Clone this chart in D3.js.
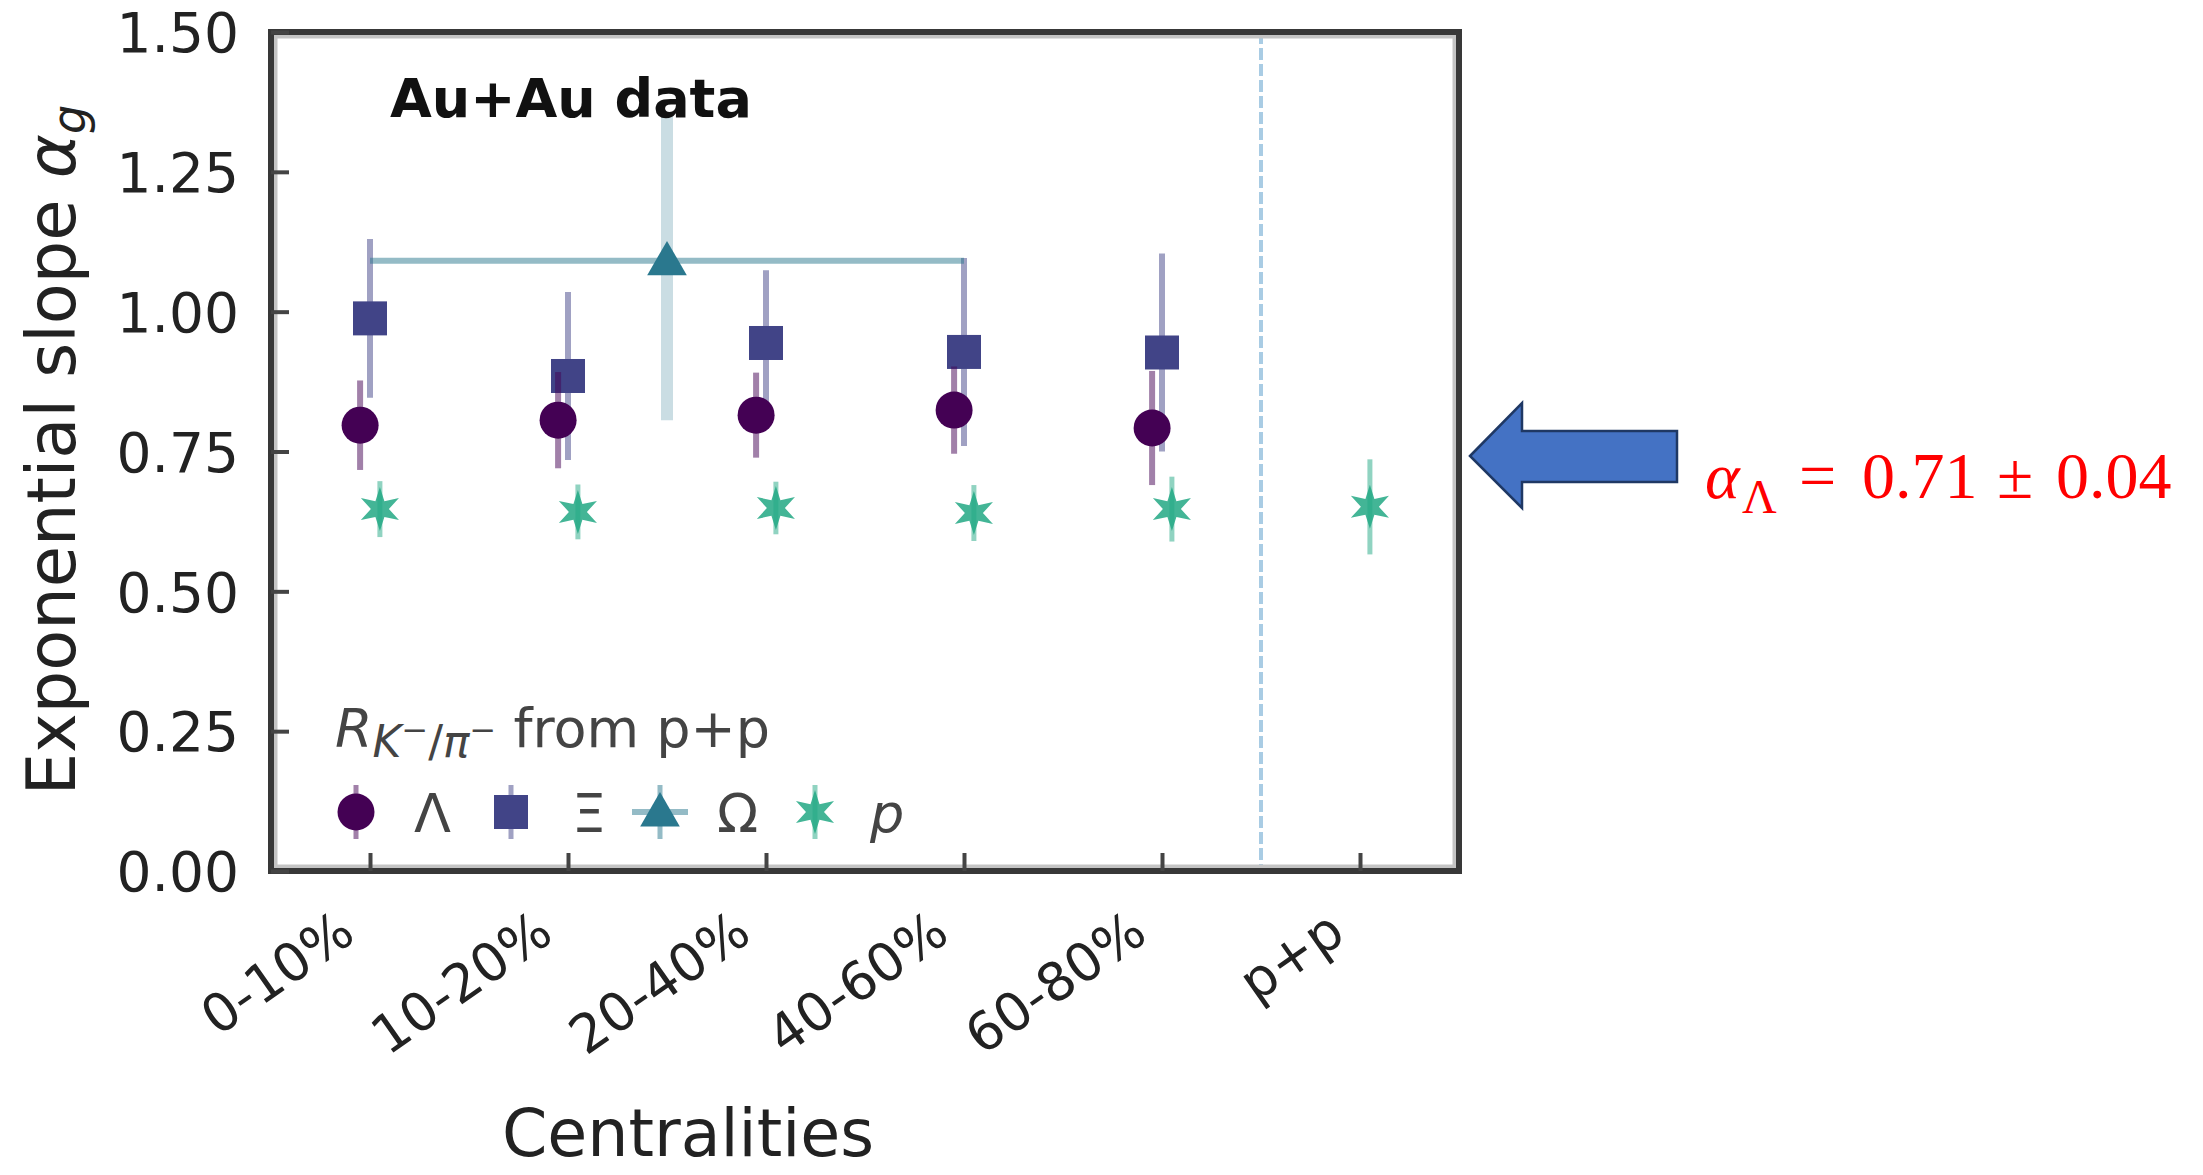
<!DOCTYPE html>
<html>
<head>
<meta charset="utf-8">
<script src="https://cdn.jsdelivr.net/npm/d3@7"></script>
<style>
  html, body { margin: 0; padding: 0; background: #fff; }
  svg { display: block; }
</style>
</head>
<body>
<svg id="chart" width="2203" height="1175"></svg>
<script>
// ---------------- data ----------------
const categories = ["0-10%", "10-20%", "20-40%", "40-60%", "60-80%", "p+p"];
const yTicks = [0, 0.25, 0.5, 0.75, 1.0, 1.25, 1.5];

const lambdaVals = [0.797, 0.806, 0.815, 0.824, 0.792];
const lambdaErr  = [0.080, 0.086, 0.076, 0.078, 0.102];

const xiVals = [0.988, 0.885, 0.944, 0.928, 0.927];
const xiErr  = [0.142, 0.150, 0.130, 0.168, 0.177];

const omegaX = [1.5];       // spans 0-10% .. 40-60%
const omegaXErr = [1.5];
const omegaVals = [1.091];
const omegaLow  = [0.806];
const omegaHigh = [1.350];

const protonVals = [0.647, 0.642, 0.649, 0.640, 0.647, 0.651];
const protonErr  = [0.050, 0.049, 0.047, 0.050, 0.058, 0.085];

const legendLabels = ["Λ", "Ξ", "Ω", "p"];

// ---------------- setup ----------------
const svg = d3.select("#chart");
const L = 271, R = 1459, T = 32, B = 871;
const x = d3.scaleLinear().domain([-0.5, 5.5]).range([L, R]);
const y = d3.scaleLinear().domain([0, 1.5]).range([B, T]);

const C = { lam: "#440154", xi: "#414487", om: "#2a788e", p: "#22a884" };
const FONT = "'DejaVu Sans', sans-serif";

function starPath(R0, r0) {
  const pts = [];
  for (let i = 0; i < 12; i++) {
    const a = -Math.PI / 2 + i * Math.PI / 6;
    const rr = i % 2 === 0 ? R0 : r0;
    pts.push([rr * Math.cos(a), rr * Math.sin(a)]);
  }
  return "M" + pts.map(p => p.join(",")).join("L") + "Z";
}
const STAR = starPath(22, 9);
const TRI = d3.symbol().type(d3.symbolTriangle).size(680)();

// separator line p+p
svg.append("line")
  .attr("x1", x(4.5)).attr("x2", x(4.5))
  .attr("y1", y(1.5)).attr("y2", y(0))
  .attr("stroke", "#a9cce4").attr("stroke-width", 4)
  .attr("stroke-dasharray", "12,4");

// ---------------- Xi ----------------
const gXi = svg.append("g");
xiVals.forEach((v, i) => {
  gXi.append("line")
    .attr("x1", x(i)).attr("x2", x(i))
    .attr("y1", y(v + xiErr[i])).attr("y2", y(v - xiErr[i]))
    .attr("stroke", C.xi).attr("stroke-opacity", 0.5).attr("stroke-width", 6);
  gXi.append("rect")
    .attr("x", x(i) - 17).attr("y", y(v) - 17)
    .attr("width", 34).attr("height", 34)
    .attr("fill", C.xi);
});

// ---------------- Lambda ----------------
const gLam = svg.append("g");
lambdaVals.forEach((v, i) => {
  const xi = x(i - 0.05);
  gLam.append("line")
    .attr("x1", xi).attr("x2", xi)
    .attr("y1", y(v + lambdaErr[i])).attr("y2", y(v - lambdaErr[i]))
    .attr("stroke", C.lam).attr("stroke-opacity", 0.5).attr("stroke-width", 6);
  gLam.append("circle")
    .attr("cx", xi).attr("cy", y(v)).attr("r", 18.5)
    .attr("fill", C.lam);
});

// ---------------- Omega ----------------
const gOm = svg.append("g");
omegaVals.forEach((v, i) => {
  gOm.append("line")
    .attr("x1", x(omegaX[i])).attr("x2", x(omegaX[i]))
    .attr("y1", y(omegaHigh[i])).attr("y2", y(omegaLow[i]))
    .attr("stroke", C.om).attr("stroke-opacity", 0.25).attr("stroke-width", 12);
  gOm.append("line")
    .attr("x1", x(omegaX[i] - omegaXErr[i])).attr("x2", x(omegaX[i] + omegaXErr[i]))
    .attr("y1", y(v)).attr("y2", y(v))
    .attr("stroke", C.om).attr("stroke-opacity", 0.5).attr("stroke-width", 6);
  gOm.append("path")
    .attr("d", TRI)
    .attr("transform", `translate(${x(omegaX[i])},${y(v) + 3})`)
    .attr("fill", C.om);
});

// ---------------- protons ----------------
const gP = svg.append("g");
protonVals.forEach((v, i) => {
  const xp = x(i + 0.05);
  gP.append("line")
    .attr("x1", xp).attr("x2", xp)
    .attr("y1", y(v + protonErr[i])).attr("y2", y(v - protonErr[i]))
    .attr("stroke", C.p).attr("stroke-opacity", 0.5).attr("stroke-width", 5);
  gP.append("path")
    .attr("d", STAR)
    .attr("transform", `translate(${xp},${y(v)})`)
    .attr("fill", C.p).attr("fill-opacity", 0.85);
});

// ---------------- frame ----------------
svg.append("rect")
  .attr("x", L + 4).attr("y", T + 4)
  .attr("width", R - L - 8).attr("height", B - T - 8)
  .attr("fill", "none").attr("stroke", "#c4c4c4").attr("stroke-width", 5);
svg.append("rect")
  .attr("x", L).attr("y", T)
  .attr("width", R - L).attr("height", B - T)
  .attr("fill", "none").attr("stroke", "#383838").attr("stroke-width", 6);

// ---------------- axes ----------------
const yAxis = d3.axisLeft(y).tickValues(yTicks).tickFormat(d3.format(".2f"))
  .tickSizeInner(-18).tickSizeOuter(0).tickPadding(32);
const gy = svg.append("g").attr("transform", `translate(${L},0)`).call(yAxis);
gy.select(".domain").remove();
gy.selectAll(".tick line").attr("stroke", "#444").attr("stroke-width", 4);
gy.selectAll(".tick text")
  .attr("font-family", FONT).attr("font-size", 55).attr("fill", "#222")
  .attr("dy", "0.36em");

const xAxis = d3.axisBottom(x).tickValues(d3.range(categories.length))
  .tickFormat(i => categories[i]).tickSizeInner(-18).tickSizeOuter(0);
const gx = svg.append("g").attr("transform", `translate(0,${B})`).call(xAxis);
gx.select(".domain").remove();
gx.selectAll(".tick line").attr("stroke", "#444").attr("stroke-width", 4);
gx.selectAll(".tick text")
  .attr("font-family", FONT).attr("font-size", 53).attr("fill", "#222")
  .attr("text-anchor", "end")
  .attr("y", 0).attr("dy", 0)
  .attr("transform", "translate(-13,68) rotate(-35)");

// axis labels
const yl = svg.append("text")
  .attr("transform", "translate(75,450) rotate(-90)")
  .attr("text-anchor", "middle")
  .attr("font-family", FONT).attr("font-size", 67).attr("fill", "#222");
yl.append("tspan").text("Exponential slope ");
yl.append("tspan").attr("font-style", "italic").text("α");
yl.append("tspan").attr("font-style", "italic").attr("font-size", 46).attr("dy", 10).text("g");

svg.append("text")
  .attr("x", 688).attr("y", 1156)
  .attr("text-anchor", "middle")
  .attr("font-family", FONT).attr("font-size", 65).attr("fill", "#222")
  .text("Centralities");

// title in plot
svg.append("text")
  .attr("x", 390).attr("y", 117)
  .attr("font-family", FONT).attr("font-size", 54).attr("font-weight", "bold").attr("fill", "#111")
  .text("Au+Au data");

// ---------------- legend ----------------
const lt = svg.append("text")
  .attr("x", 335).attr("y", 747)
  .attr("font-family", FONT).attr("font-size", 54).attr("fill", "#444");
lt.append("tspan").attr("font-style", "italic").text("R");
lt.append("tspan").attr("font-style", "italic").attr("font-size", 44).attr("dy", 10).text("K");
lt.append("tspan").attr("font-size", 32).attr("dy", -16).text("−");
lt.append("tspan").attr("font-size", 44).attr("dy", 16).text("/");
lt.append("tspan").attr("font-style", "italic").attr("font-size", 44).text("π");
lt.append("tspan").attr("font-size", 32).attr("dy", -16).text("−");
lt.append("tspan").attr("dy", 6).text(" from p+p");

const legY = 812;
const legMarkX = [356, 511, 660, 815];
const legTextX = [414, 572, 717, 870];
const legColors = [C.lam, C.xi, C.om, C.p];
const gl = svg.append("g");
legMarkX.forEach((mx, k) => {
  gl.append("line")
    .attr("x1", mx).attr("x2", mx).attr("y1", legY - 27).attr("y2", legY + 27)
    .attr("stroke", legColors[k]).attr("stroke-opacity", 0.5)
    .attr("stroke-width", 5);
  if (k === 0) gl.append("circle").attr("cx", mx).attr("cy", legY).attr("r", 18.5).attr("fill", C.lam);
  if (k === 1) gl.append("rect").attr("x", mx - 17).attr("y", legY - 17).attr("width", 34).attr("height", 34).attr("fill", C.xi);
  if (k === 2) {
    gl.append("line").attr("x1", mx - 28).attr("x2", mx + 28).attr("y1", legY).attr("y2", legY)
      .attr("stroke", C.om).attr("stroke-opacity", 0.5).attr("stroke-width", 6);
    gl.append("path").attr("d", TRI).attr("transform", `translate(${mx},${legY + 3})`).attr("fill", C.om);
  }
  if (k === 3) gl.append("path").attr("d", STAR).attr("transform", `translate(${mx},${legY})`).attr("fill", C.p).attr("fill-opacity", 0.85);
  gl.append("text")
    .attr("x", legTextX[k]).attr("y", legY + 20)
    .attr("font-family", FONT).attr("font-size", 54).attr("fill", "#444")
    .attr("font-style", k === 3 ? "italic" : "normal")
    .text(legendLabels[k]);
});

// ---------------- annotation ----------------
svg.append("path")
  .attr("d", "M1470,456 L1522,403 L1522,431 L1677,431 L1677,482 L1522,482 L1522,508 Z")
  .attr("fill", "#4472c4").attr("stroke", "#1f3864").attr("stroke-width", 2.5)
  .attr("stroke-linejoin", "miter");

const SERIF = "'Liberation Serif', 'DejaVu Serif', serif";
const ann = svg.append("g").attr("fill", "#ff0000").attr("font-family", SERIF);
ann.append("text").attr("x", 1705).attr("y", 498).attr("font-size", 66).attr("font-style", "italic").text("α");
ann.append("text").attr("x", 1742).attr("y", 513).attr("font-size", 48).text("Λ");
ann.append("text").attr("x", 1799).attr("y", 498).attr("font-size", 66).text("=");
ann.append("text").attr("x", 1862).attr("y", 498).attr("font-size", 66).text("0.71");
ann.append("text").attr("x", 1997).attr("y", 498).attr("font-size", 66).text("±");
ann.append("text").attr("x", 2056).attr("y", 498).attr("font-size", 66).text("0.04");
</script>
</body>
</html>
